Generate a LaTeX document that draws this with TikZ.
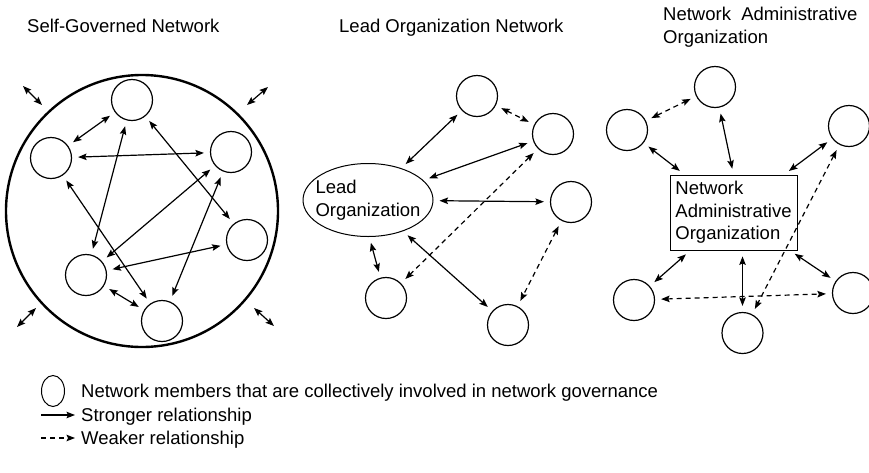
\documentclass[tikz,border=0pt]{standalone}
\usepackage{fontspec}
\setmainfont{Liberation Sans}
\usetikzlibrary{arrows.meta,shapes.geometric}

\begin{document}
\begin{tikzpicture}[x=1pt, y=-1pt, >={Stealth[length=8.5pt,width=6.5pt,inset=1.5pt]},
    member/.style={circle, draw, line width=1.2pt, minimum size=41pt, inner sep=0pt},
    link/.style={<->, line width=1.2pt},
    strong/.style={link, shorten <=6pt, shorten >=6pt},
    weak/.style={strong, dash pattern=on 5pt off 4pt},
    txt/.style={anchor=base west, inner sep=0pt, font=\fontsize{18.5}{22.5}\selectfont}]

    \useasboundingbox (0,0) rectangle (869,472);

    % titles
    \node[txt] (title1) at (27,32) {Self-Governed Network};
    \node[txt] (title2) at (339,32) {Lead Organization Network};
    \node[txt, anchor=north west, align=left] (title3) at (663,7) {Network\ \ Administrative\\Organization};

    % self-governed network
    \node[circle, draw, line width=2.4pt, minimum size=272pt] (ring) at (142,211) {};
    \node[member] (s1) at (132,100) {};
    \node[member] (s2) at (51,158) {};
    \node[member] (s3) at (231,152) {};
    \node[member] (s4) at (247,240) {};
    \node[member] (s5) at (86,275) {};
    \node[member] (s6) at (162,321) {};

    \draw[strong] (s2) -- (s1);
    \draw[strong] (s2) -- (s3);
    \draw[strong] (s1) -- (s5);
    \draw[strong] (s1) -- (s4);
    \draw[strong] (s2) -- (s6);
    \draw[strong] (s3) -- (s5);
    \draw[strong] (s3) -- (s6);
    \draw[strong] (s4) -- (s5);
    \draw[strong] (s5) -- (s6);

    \coordinate (o1a) at (23,86);   \coordinate (o1b) at (42,105);
    \coordinate (o2a) at (268,87);  \coordinate (o2b) at (247,105);
    \coordinate (o3a) at (17,327);  \coordinate (o3b) at (36,308);
    \coordinate (o4a) at (254,308); \coordinate (o4b) at (274,326);
    \draw[link] (o1a) -- (o1b);
    \draw[link] (o2a) -- (o2b);
    \draw[link] (o3a) -- (o3b);
    \draw[link] (o4a) -- (o4b);

    % lead organization network
    \node[ellipse, draw, line width=1pt, minimum width=130pt, minimum height=73pt, inner sep=0pt,
      label={[txt, anchor=center, align=left]center:Lead\\Organization}] (lead) at (368,200) {};
    \node[member] (m1) at (477,96) {};
    \node[member] (m2) at (553,134) {};
    \node[member] (m3) at (571,202) {};
    \node[member] (m4) at (386,298) {};
    \node[member] (m5) at (508,325) {};

    \draw[strong] (lead) -- (m1);
    \draw[weak] (m1) -- (m2);
    \draw[strong] (lead) -- (m2);
    \draw[strong] (lead) -- (m3);
    \draw[strong] (lead.-88) -- (m4);
    \draw[weak] (m2) -- (m4);
    \draw[strong] (lead) -- (m5);
    \draw[weak] (m3) -- (m5);

    % network administrative organization
    \node[draw, line width=0.8pt, minimum width=127pt, minimum height=75pt, inner sep=0pt,
      txt, anchor=center, align=left] (nao) at (733.5,212.5) {Network\\Administrative\\Organization};
    \node[member] (r1) at (715,87) {};
    \node[member] (r2) at (627,130) {};
    \node[member] (r3) at (849,126) {};
    \node[member] (r4) at (634,300) {};
    \node[member] (r5) at (742.5,333) {};
    \node[member] (r6) at (853,293) {};

    \draw[weak] (r2) -- (r1);
    \draw[strong] (r2) -- (nao);
    \draw[strong] (r1) -- (nao.north);
    \draw[strong] (r3) -- (nao);
    \draw[weak] (r3) -- (r5);
    \draw[strong] (nao) -- (r4);
    \draw[strong] (nao.south -| r5) -- (r5);
    \draw[strong] (nao) -- (r6);
    \draw[weak] (r4) -- (r6);

    % legend
    \node[ellipse, draw, line width=1pt, minimum width=23pt, minimum height=31pt, inner sep=0pt] (key) at (53,391) {};
    \node[txt] (keytxt) at (81,397.6) {Network members that are collectively involved in network governance};
    \coordinate (k1a) at (41,415); \coordinate (k1b) at (75,415);
    \coordinate (k2a) at (41,438); \coordinate (k2b) at (75,438);
    \draw[->, line width=1.2pt] (k1a) -- (k1b);
    \draw[->, line width=1.2pt, dash pattern=on 5pt off 4pt] (k2a) -- (k2b);
    \node[txt] (strongtxt) at (81,421.6) {Stronger relationship};
    \node[txt] (weaktxt) at (81,444.6) {Weaker relationship};

  \end{tikzpicture}
\end{document}
